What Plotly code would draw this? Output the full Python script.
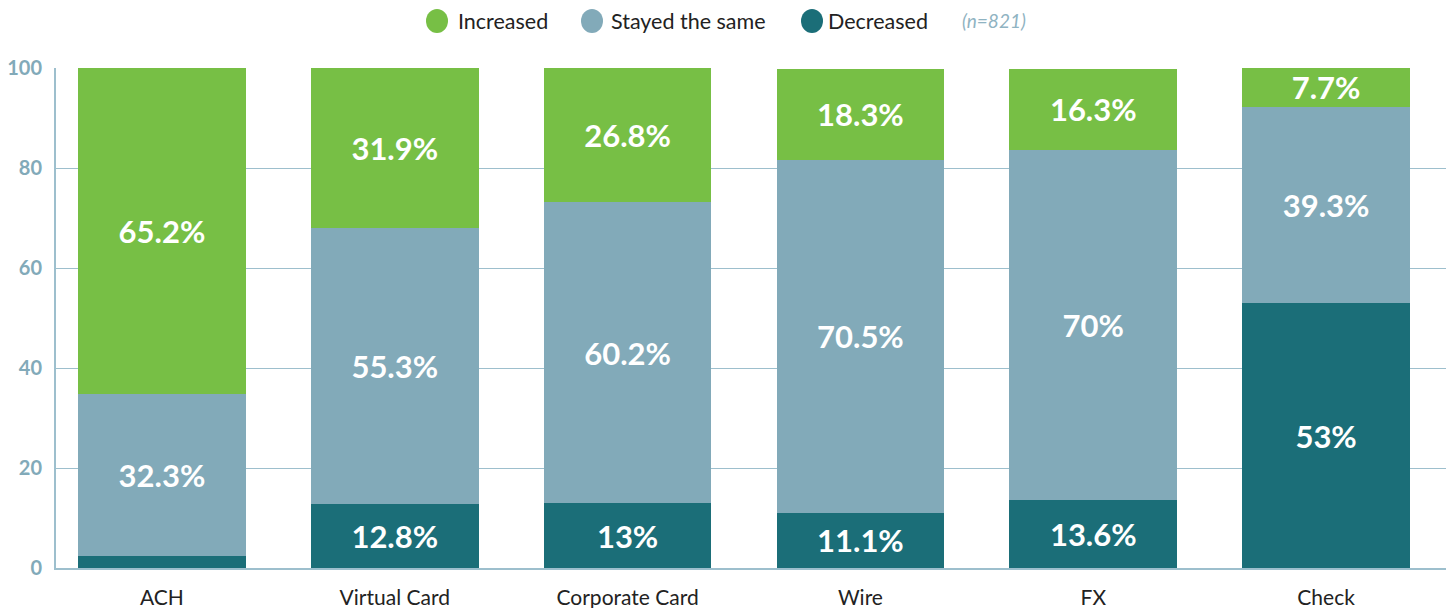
import plotly.graph_objects as go

categories = ["ACH", "Virtual Card", "Corporate Card", "Wire", "FX", "Check"]
decreased = [2.5, 12.8, 13, 11.1, 13.6, 53]
stayed = [32.3, 55.3, 60.2, 70.5, 70, 39.3]
increased = [65.2, 31.9, 26.8, 18.3, 16.3, 7.7]
decreased_labels = ["", "12.8%", "13%", "11.1%", "13.6%", "53%"]
stayed_labels = ["32.3%", "55.3%", "60.2%", "70.5%", "70%", "39.3%"]
increased_labels = ["65.2%", "31.9%", "26.8%", "18.3%", "16.3%", "7.7%"]
y_ticks = [0, 20, 40, 60, 80, 100]
legend_names = ["Increased", "Stayed the same", "Decreased"]
sample_note = "(n=821)"

C_INC = "#77bf45"
C_STAY = "#82aab9"
C_DEC = "#1b6e78"
GRID = "#9dbfcd"
FONT = "Lato"

L, R, T, B = 56, 6, 68, 40
W, H = 1452, 608
PW, PH = W - L - R, H - T - B


def px_x(px):
    return (px - L) / PW


def px_y(py):
    return (H - B - py) / PH


fig = go.Figure()

for name, vals, labels, col in [
    ("Decreased", decreased, decreased_labels, C_DEC),
    ("Stayed the same", stayed, stayed_labels, C_STAY),
    ("Increased", increased, increased_labels, C_INC),
]:
    fig.add_trace(go.Bar(
        x=categories, y=vals, name=name, marker=dict(color=col, line=dict(width=0)),
        text=labels, texttemplate="%{text}", textposition="inside",
        insidetextanchor="middle", textangle=0, constraintext="none",
        textfont=dict(family=FONT, size=31, color="white", weight="bold"),
        showlegend=False, hoverinfo="skip",
    ))

# manual legend (circles + labels)
legend_cols = [C_INC, C_STAY, C_DEC]
circle_px = [437, 592, 812]
text_px = [456, 609, 826]
shapes = []
annotations = []
ly = px_y(21)
for name, col, cx, tx in zip(legend_names, legend_cols, circle_px, text_px):
    shapes.append(dict(
        type="circle", xref="paper", yref="paper",
        xsizemode="pixel", ysizemode="pixel",
        xanchor=px_x(cx), yanchor=ly,
        x0=-11, x1=11, y0=-12, y1=12,
        fillcolor=col, line=dict(width=0),
    ))
    annotations.append(dict(
        text=name, xref="paper", yref="paper", x=px_x(tx), y=ly,
        xanchor="left", yanchor="middle", showarrow=False,
        font=dict(family=FONT, size=21.5, color="#222222"),
    ))
annotations.append(dict(
    text="<i>" + sample_note + "</i>", xref="paper", yref="paper",
    x=px_x(960), y=ly, xanchor="left", yanchor="middle",
    showarrow=False, font=dict(family=FONT, size=19, color="#8fb3c2"),
))

fig.update_layout(
    width=W, height=H,
    margin=dict(l=L, r=R, t=T, b=B, autoexpand=False),
    barmode="stack", bargap=0.28,
    plot_bgcolor="white", paper_bgcolor="white",
    font=dict(family=FONT, color="#222222"),
    showlegend=False,
    xaxis=dict(
        range=[-0.455, 5.515], showgrid=False, ticks="", ticklen=0,
        ticklabelstandoff=10, automargin=False,
        tickfont=dict(family=FONT, size=21, color="#222222"),
        showline=True, linecolor=GRID, linewidth=2, zeroline=False,
        fixedrange=True,
    ),
    yaxis=dict(
        range=[0, 100], tickvals=y_ticks, showgrid=True, gridcolor=GRID, gridwidth=1,
        showline=True, linecolor=GRID, linewidth=2, zeroline=False,
        ticks="", ticklabelstandoff=8, automargin=False,
        tickfont=dict(family=FONT, size=20, color="#82aab9", weight="bold"),
        fixedrange=True,
    ),
    shapes=shapes,
    annotations=annotations,
)

fig.write_html("out.html")
